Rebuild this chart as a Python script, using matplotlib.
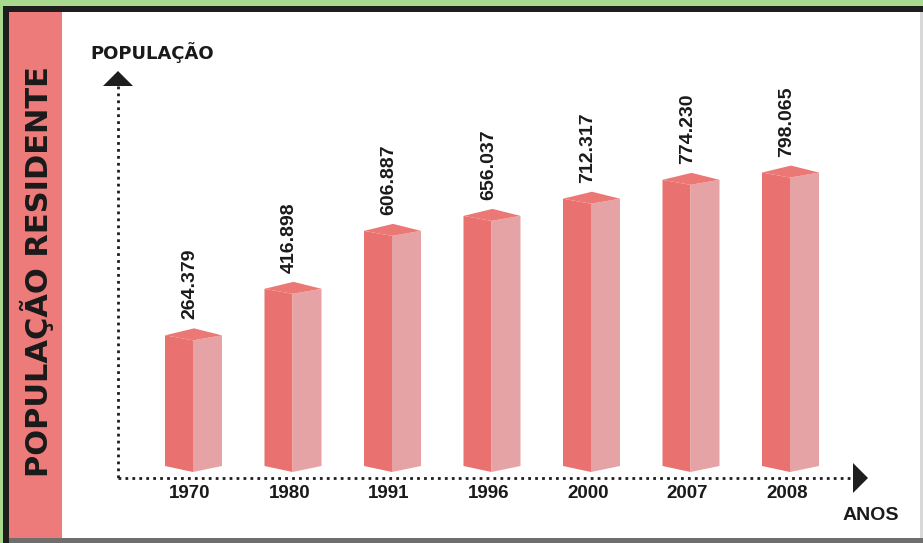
import matplotlib
matplotlib.use("Agg")
import matplotlib.pyplot as plt
from matplotlib.patches import Polygon, Rectangle
from matplotlib.lines import Line2D
import matplotlib.transforms as mtransforms

# ---- data ----
years = ["1970", "1980", "1991", "1996", "2000", "2007", "2008"]
population = [264379, 416898, 606887, 656037, 712317, 774230, 798065]
y_title = "POPULAÇÃO"
x_title = "ANOS"
side_title = "POPULAÇÃO RESIDENTE"

# ---- styling / layout (pixels) ----
W, H = 923, 543
STEP_PX = 99.5          # horizontal spacing between bars
FIRST_PX = 193          # front edge of first bar
PX_PER_UNIT = 0.000305  # vertical pixels per person
BASE_PX = 466           # pixel row of bar bases
BASE_VALUE = -164000    # value at bar base (axis is not zero-based)

FRONT = "#E9716F"
SIDE = "#E6A3A5"
TOP = "#EC7875"
STRIP = "#EC7B79"
GREEN = "#A9D98F"
DARK = "#1E1E1E"

fig = plt.figure(figsize=(W / 100, H / 100), dpi=100, facecolor=GREEN)

deco = fig.add_axes([0, 0, 1, 1], zorder=0)
deco.set_xlim(0, W)
deco.set_ylim(H, 0)
deco.axis("off")

# frame
deco.add_patch(Rectangle((3, 6), W, H, facecolor=DARK, edgecolor="none"))
deco.add_patch(Rectangle((9, 12), W - 11, 526, facecolor="white", edgecolor="none"))
deco.add_patch(Rectangle((9, 538), W, 6, facecolor="#6E6E6E", edgecolor="none"))
deco.add_patch(Rectangle((920, 12), 3, 526, facecolor="#D8D8D8", edgecolor="none"))
deco.add_patch(Rectangle((9, 12), 53, 526, facecolor=STRIP, edgecolor="none"))

deco.text(37, 272, side_title, rotation=90, ha="center", va="center",
          fontsize=22, fontweight="bold", color="#1a1a1a", family="DejaVu Sans")

# dotted axes with arrow heads
dot = dict(color=DARK, linewidth=2.0, linestyle=(0, (1, 1.5)), solid_capstyle="butt")
deco.add_line(Line2D([118, 118], [86, 478], **dot))
deco.add_line(Line2D([118, 853], [478, 478], **dot))
deco.add_patch(Polygon([(103, 86), (133, 86), (118, 71)], closed=True, facecolor=DARK, edgecolor="none"))
deco.add_patch(Polygon([(853, 463), (853, 493), (868, 478)], closed=True, facecolor=DARK, edgecolor="none"))

deco.text(90, 53, y_title, ha="left", va="center", fontsize=13,
          fontweight="bold", color="#1a1a1a", family="DejaVu Sans")
deco.text(871, 515, x_title, ha="center", va="center", fontsize=14,
          fontweight="bold", color="#1a1a1a", family="Liberation Sans")

# ---- chart axes (category index x value) ----
ax = fig.add_axes([0, 0, 1, 1], zorder=1)
ax.patch.set_alpha(0)
ax.set_xlim(-FIRST_PX / STEP_PX, (W - FIRST_PX) / STEP_PX)
ax.set_ylim(BASE_VALUE - (H - BASE_PX) / PX_PER_UNIT, BASE_VALUE + BASE_PX / PX_PER_UNIT)
ax.axis("off")

px = 1 / STEP_PX
py = 1 / PX_PER_UNIT
for i, (yr, v) in enumerate(zip(years, population)):
    L, C, R = i - 28 * px, i, i + 29 * px
    B = L + R - C
    front = [(L, v), (C, v - 5 * py), (C, BASE_VALUE - 6 * py), (L, BASE_VALUE)]
    side = [(C, v - 5 * py), (R, v), (R, BASE_VALUE), (C, BASE_VALUE - 6 * py)]
    top = [(L, v), (B, v + 7 * py), (R, v), (C, v - 5 * py)]
    ax.add_patch(Polygon(front, closed=True, facecolor=FRONT, edgecolor="none"))
    ax.add_patch(Polygon(side, closed=True, facecolor=SIDE, edgecolor="none"))
    ax.add_patch(Polygon(top, closed=True, facecolor=TOP, edgecolor="none"))
    label = f"{v:,}".replace(",", ".")
    ax.text(i - 3 * px, v + 16 * py, label, rotation=90, ha="center", va="bottom",
            fontsize=14, fontweight="bold", color="#1a1a1a",
            family=["Liberation Sans Narrow", "Liberation Sans"])

blend = mtransforms.blended_transform_factory(ax.transData, deco.transData)
for i, yr in enumerate(years):
    fig.text(i - 3 * px, 493, yr, transform=blend, ha="center", va="center",
             fontsize=13.5, fontweight="bold", color="#1a1a1a", family="Liberation Sans")

fig.savefig("out.png", dpi=100, facecolor=GREEN)
